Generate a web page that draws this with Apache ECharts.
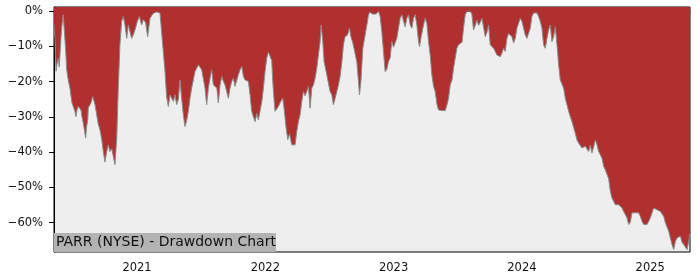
<!DOCTYPE html>
<html>
<head>
<meta charset="utf-8">
<script src="https://cdn.jsdelivr.net/npm/echarts@6/dist/echarts.min.js"></script>
<style>html,body{margin:0;padding:0;background:#fff}#c{width:700px;height:280px}</style>
</head>
<body>
<div id="c"></div>
<script>
// Dates as decimal years
var years = [
2020.353,2020.361,2020.369,2020.376,2020.387,2020.394,2020.400,2020.408,2020.415,2020.425,2020.433,2020.444,2020.452,2020.464,2020.478,2020.486,2020.493,2020.503,2020.517,2020.524,2020.532,2020.542,2020.556,2020.563,2020.571,2020.581,2020.591,2020.600,2020.606,2020.616,2020.620,2020.634,2020.641,2020.655,2020.665,2020.673,2020.686,2020.696,2020.712,2020.725,2020.737,2020.750,2020.764,2020.776,2020.789,2020.803,2020.815,2020.828,2020.842,2020.854,2020.867,2020.880,2020.893,2020.906,2020.920,2020.932,2020.945,2020.958,2020.971,2020.984,
2021.002,2021.018,2021.036,2021.049,2021.067,2021.083,2021.101,2021.127,2021.153,2021.163,2021.179,2021.192,2021.206,2021.218,2021.231,2021.244,2021.257,2021.270,2021.283,2021.296,2021.309,2021.322,2021.335,2021.348,2021.361,2021.374,2021.387,2021.400,2021.413,2021.426,2021.439,2021.452,2021.465,2021.478,2021.491,2021.504,2021.517,2021.530,2021.543,2021.556,2021.569,2021.582,2021.595,2021.608,2021.622,2021.634,2021.647,2021.661,2021.673,2021.686,2021.699,2021.712,2021.725,2021.738,2021.751,2021.764,2021.778,2021.790,2021.803,2021.817,2021.829,2021.842,2021.856,2021.868,2021.881,2021.894,2021.907,2021.920,2021.934,2021.946,2021.959,2021.973,2021.985,2021.998,
2022.011,2022.024,2022.037,2022.050,2022.058,2022.068,2022.076,2022.089,2022.102,2022.120,2022.136,2022.146,2022.162,2022.175,2022.189,2022.206,2022.219,2022.232,2022.245,2022.258,2022.271,2022.284,2022.297,2022.310,2022.323,2022.336,2022.349,2022.362,2022.375,2022.388,2022.401,2022.414,2022.427,2022.435,2022.448,2022.458,2022.474,2022.492,2022.505,2022.518,2022.531,2022.544,2022.557,2022.570,2022.583,2022.597,2022.609,2022.622,2022.640,2022.656,2022.667,2022.682,2022.695,2022.713,2022.726,2022.734,2022.745,2022.760,2022.778,2022.796,2022.804,2022.817,2022.833,2022.848,2022.864,2022.882,2022.895,2022.908,2022.921,2022.934,2022.947,2022.960,2022.973,2022.986,2022.999,
2023.012,2023.025,2023.038,2023.051,2023.064,2023.077,2023.090,2023.103,2023.116,2023.129,2023.142,2023.155,2023.168,2023.181,2023.194,2023.202,2023.215,2023.233,2023.246,2023.259,2023.272,2023.285,2023.298,2023.311,2023.324,2023.338,2023.350,2023.363,2023.377,2023.389,2023.402,2023.416,2023.428,2023.441,2023.455,2023.467,2023.480,2023.493,2023.506,2023.519,2023.533,2023.545,2023.558,2023.571,2023.584,2023.597,2023.610,2023.623,2023.636,2023.649,2023.662,2023.675,2023.688,2023.701,2023.714,2023.727,2023.740,2023.753,2023.766,2023.779,2023.792,2023.805,2023.818,2023.831,2023.844,2023.857,2023.870,2023.883,2023.896,2023.909,2023.922,2023.935,2023.948,2023.961,2023.974,2023.987,
2024.000,2024.013,2024.026,2024.039,2024.052,2024.065,2024.078,2024.091,2024.104,2024.117,2024.130,2024.143,2024.156,2024.169,2024.182,2024.195,2024.208,2024.221,2024.234,2024.247,2024.260,2024.268,2024.278,2024.286,2024.299,2024.312,2024.325,2024.338,2024.351,2024.364,2024.377,2024.390,2024.403,2024.416,2024.429,2024.442,2024.455,2024.468,2024.481,2024.494,2024.507,2024.520,2024.533,2024.546,2024.559,2024.572,2024.585,2024.598,2024.611,2024.624,2024.637,2024.650,2024.663,2024.676,2024.689,2024.702,2024.715,2024.728,2024.741,2024.754,2024.767,2024.780,2024.793,2024.806,2024.819,2024.832,2024.845,2024.858,2024.871,2024.884,2024.897,2024.910,2024.923,2024.936,2024.949,2024.962,2024.975,2024.988,
2025.001,2025.014,2025.027,2025.040,2025.053,2025.066,2025.079,2025.092,2025.105,2025.118,2025.131,2025.144,2025.157,2025.170,2025.183,2025.196,2025.209,2025.222,2025.235,2025.248,2025.261,2025.274,2025.287,2025.300,2025.310
];
// Drawdown in percent
var drawdown = [
-3.9,-8,-17,-15,-13.3,-15.8,-12,-7.2,-4,-1,-0.5,-11,-16.6,-19.5,-22,-24.2,-26,-27,-28.5,-29.9,-28,-27,-27.5,-28,-30,-31.7,-34,-36,-33,-30.8,-27.4,-27,-26,-24.2,-25.5,-26.6,-29.4,-31.7,-33.8,-36.3,-39.8,-42.8,-39.8,-37.9,-39.8,-39,-39.5,-43.5,-36,-21.8,-9.5,-2.9,-1.5,-3.9,-7.7,-3.9,-5.8,-7.7,-6.7,-5.3,
-2.9,-1.5,-3.9,-2.4,-3.2,-7.2,-2,-0.6,-0.2,0,-0.5,-1,-12,-17,-24.3,-27,-23.7,-23.5,-25.6,-23.7,-26.5,-25,-19.5,-24.7,-29.4,-32.7,-31,-28.4,-24.7,-21.8,-19.5,-17.1,-16.2,-15.2,-15.6,-16.6,-17.1,-21.8,-26.5,-21.8,-19,-16.6,-20.9,-20.5,-21.8,-26,-20.9,-18.5,-19.9,-20.9,-22.8,-24.7,-21.8,-19.9,-19,-21.3,-19.5,-18,-16.6,-15.7,-18.5,-19.5,-19,-19.9,-23.7,-28.4,-29.9,-31.3,-29,-30.8,-30.3,-25.6,-21.8,-17.1,
-13.3,-11.6,-11.8,-14,-19.9,-25,-28.4,-28.4,-27,-25.6,-24.7,-27.5,-33.1,-36.4,-34.8,-37.9,-38.4,-37.9,-34.1,-31.3,-29.4,-25.6,-22.8,-24,-22.8,-21.3,-27.5,-21.8,-20.9,-19,-16.2,-12.4,-8.6,-3.9,-8.6,-14.3,-17.1,-20.4,-22.8,-23.7,-26.5,-24.7,-22.8,-20.9,-18.5,-14.3,-9.5,-7.2,-6.8,-4.8,-7.2,-9,-9.5,-14.3,-19.9,-23.7,-19.9,-10.5,-6.7,-2.9,-1,-0.2,-0.8,-0.5,-0.8,0,-1.5,-5.8,-11.4,-17.1,-16.5,-14.3,-13.2,-8.6,-10.2,
-9.8,-7.7,-4.8,-2,-1,-2.8,-4.4,-2,-1,-3.9,-4.8,-2,-1,-3.9,-8.6,-10,-7.2,-3.9,-2,-3.5,-8.6,-12.4,-18,-21.3,-22.8,-26.5,-28,-28.2,-28.2,-27.8,-28.2,-26.5,-24.7,-20.9,-19.5,-16.2,-13.3,-10.5,-9.5,-9,-8.8,-4.8,-1,0,0,0,-0.8,-5.3,-4,-2.5,-4,-3.2,-2,-4.5,-7.2,-6,-3.9,-9.5,-10,-10.5,-11.4,-12.4,-11.9,-12.9,-11.9,-10.5,-11.4,-7.7,-6.3,-6.7,-7.2,-9,-7.7,-4.8,-3.4,-2,
-2.9,-4.8,-6.7,-7.7,-8.1,-4.8,-1.5,-0.5,0,-0.5,-1.5,-2.9,-4.8,-9.5,-10.5,-7.7,-5.3,-3.9,-8.6,-7.2,-4.4,-3.9,-11.4,-15.2,-19.5,-20,-21.8,-24.7,-26.5,-28.4,-29.9,-31.3,-33,-34.6,-36.5,-37.4,-37.9,-38.8,-39,-38.3,-37.9,-39.8,-38,-40.2,-38.5,-36.5,-37.9,-39.8,-40.7,-41.7,-44,-45,-45.4,-47.5,-51.1,-53,-52.5,-54.9,-54.4,-54.9,-55.3,-55.8,-56.8,-57.2,-58.6,-60.5,-59.8,-57.2,-56.8,-57.2,-56.8,-57.2,-58.2,-59.6,-60.5,-61,-60.5,-59.6,
-58.6,-57.2,-55.8,-55.3,-56.3,-56.8,-56.8,-57.2,-58.2,-60,-60.5,-62.4,-64.3,-66.2,-67.6,-65.3,-64.3,-64.8,-63.8,-65.5,-66.2,-66.7,-67.6,-65.3,-63
];
var yearTicks = [2021, 2022, 2023, 2024, 2025];
var pctTicks = [0, -10, -20, -30, -40, -50, -60];
var chartLabel = 'PARR (NYSE) - Drawdown Chart';

var data = years.map(function (t, i) { return [t, drawdown[i]]; });
var chart = echarts.init(document.getElementById('c'), null, {renderer: 'canvas'});
var font = 'DejaVu Sans';
chart.setOption({
  animation: false,
  backgroundColor: '#ffffff',
  grid: {left: 54, right: 10, top: 7, bottom: 28, show: true, backgroundColor: '#eeeeee', borderColor: '#000', borderWidth: 1},
  xAxis: {
    type: 'value', min: 2020.353, max: 2025.31,
    axisLine: {show: true, lineStyle: {color: '#000', width: 1}},
    axisTick: {show: true, length: 5, lineStyle: {color: '#000'}, customValues: yearTicks},
    axisLabel: {customValues: yearTicks, color: '#111', fontFamily: font, fontSize: 11.5, margin: 10,
      formatter: function (v) { return String(Math.round(v)); }},
    splitLine: {show: false}
  },
  yAxis: {
    type: 'value', min: -68.3, max: 1.2,
    axisLine: {show: true, lineStyle: {color: '#000', width: 1}},
    axisTick: {show: true, length: 5, lineStyle: {color: '#000'}, customValues: pctTicks},
    axisLabel: {customValues: pctTicks, color: '#111', fontFamily: font, fontSize: 11.5, margin: 11,
      formatter: function (v) { var r = Math.round(v); return (r < 0 ? '\u2212' : '') + Math.abs(r) + '%'; }},
    splitLine: {show: false}
  },
  graphic: [
    {type: 'rect', shape: {x: 54, y: 233, width: 222, height: 19}, style: {fill: '#b3b3b3'}, z: 100},
    {type: 'text', x: 56, y: 242.5, style: {text: chartLabel, font: '14px "DejaVu Sans"', fill: '#111', textVerticalAlign: 'middle'}, z: 101}
  ],
  series: [{
    type: 'line', data: data, symbol: 'none', smooth: false,
    lineStyle: {color: '#8a8a8a', width: 1},
    areaStyle: {color: '#b03030', opacity: 1, origin: 'end'}
  }]
});
</script>
</body>
</html>
